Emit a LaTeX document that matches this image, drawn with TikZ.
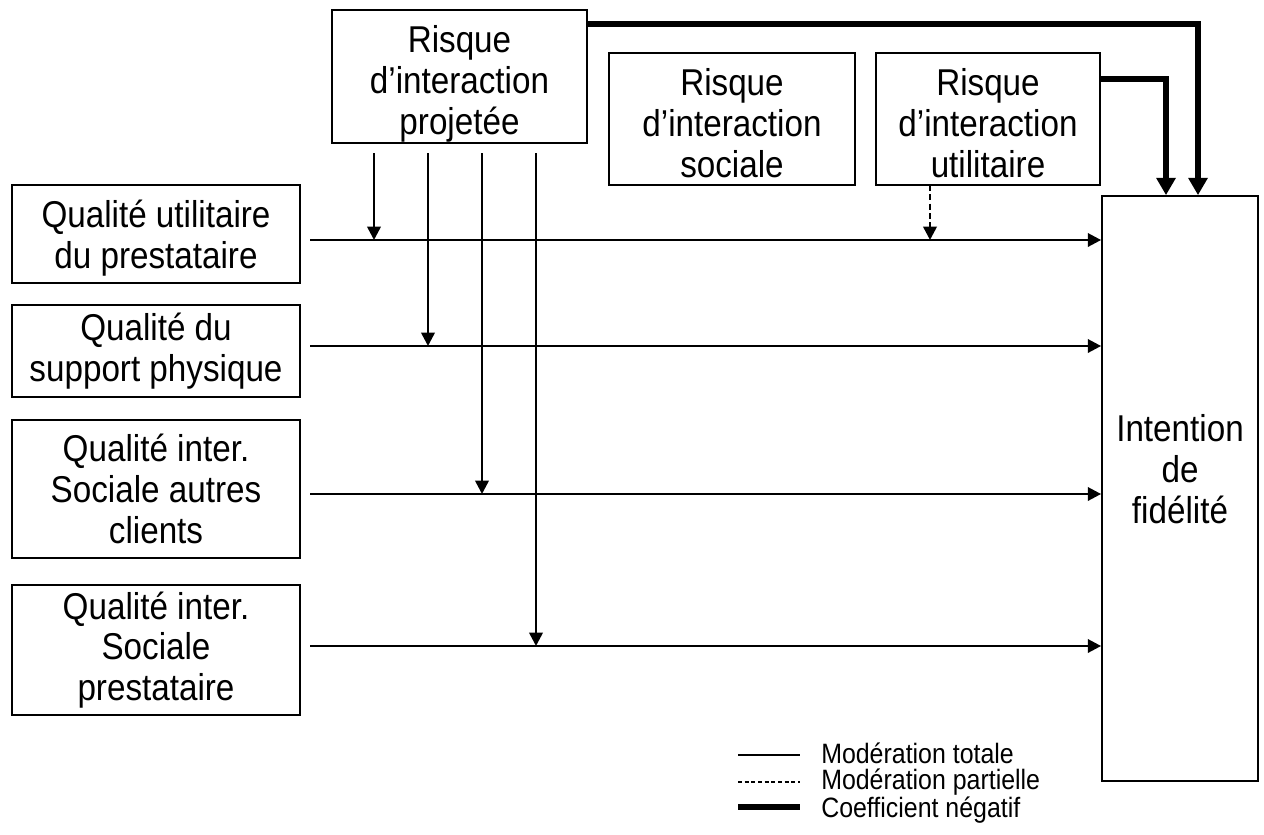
\documentclass[tikz,border=0pt]{standalone}
\usepackage{fontspec}
\setmainfont{Liberation Sans}[FakeStretch=0.89]
\usetikzlibrary{arrows.meta}
\begin{document}
\begin{tikzpicture}[x=0.75pt,y=-0.75pt,
  box/.style={draw,line width=1.3pt,inner sep=0pt,align=center,font=\fontsize{28}{30.5}\selectfont},
  txt/.style={inner sep=0pt,align=center,font=\fontsize{28}{30.5}\selectfont},
  arr/.style={line width=1.9pt,-{Triangle[width=10pt,length=10pt]}},
  darr/.style={arr,dash pattern=on 4.5pt off 2.5pt},
  neg/.style={line width=4pt,-{Triangle[width=14pt,length=13pt]}},
  legtxt/.style={anchor=west,inner sep=0pt,align=left,font=\fontsize{21}{19.2}\selectfont}]
\useasboundingbox (0,0) rectangle (1264,835);
% boxes
\node[box,minimum width=216pt,minimum height=73.5pt] (q1) at (156,234) {};
\node[txt] (q1t) at (156,238) {Qualité utilitaire\\du prestataire};
\node[box,minimum width=216pt,minimum height=69pt] (q2) at (156,351) {Qualité du\\support physique};
\node[box,minimum width=216pt,minimum height=103.5pt] (q3) at (156,489) {Qualité inter.\\Sociale autres\\clients};
\node[box,minimum width=216pt,minimum height=97.5pt] (q4) at (156,650) {Qualité inter.\\Sociale\\prestataire};
\node[box,minimum width=191.25pt,minimum height=99.75pt] (proj) at (459.5,76.5) {};
\node[txt] (projt) at (459.5,84) {Risque\\d’interaction\\projetée};
\node[box,minimum width=184.5pt,minimum height=99pt] (soc) at (732,119) {};
\node[txt] (soct) at (732,123) {Risque\\d’interaction\\sociale};
\node[box,minimum width=168pt,minimum height=99pt] (util) at (988,119) {};
\node[txt] (utilt) at (988,123) {Risque\\d’interaction\\utilitaire};
\node[box,minimum width=117pt,minimum height=438.75pt] (int) at (1180,488.5) {};
\node[txt] (intt) at (1180,469) {Intention\\de\\fidélité};
% horizontal arrows
\coordinate (s1) at (310,240);
\coordinate (s2) at (310,346);
\coordinate (s3) at (310,494);
\coordinate (s4) at (310,646);
\foreach \s in {s1,s2,s3,s4} \draw[arr] (\s) -- (\s -| int.west);
% vertical moderation arrows
\coordinate (v1) at (374,153);
\coordinate (v2) at (428,153);
\coordinate (v3) at (482,153);
\coordinate (v4) at (536,153);
\draw[arr] (v1) -- (v1 |- s1);
\draw[arr] (v2) -- (v2 |- s2);
\draw[arr] (v3) -- (v3 |- s3);
\draw[arr] (v4) -- (v4 |- s4);
\coordinate (d1) at (930,185);
\draw[darr] (d1) -- (d1 |- s1);
% negative coefficients
\coordinate (t1) at (587,24);
\coordinate (t1c) at (1198,24);
\coordinate (t2) at (1100,79);
\coordinate (t2c) at (1166,79);
\draw[neg] (t1) -- (t1c) -- (t1c |- int.north);
\draw[neg] (t2) -- (t2c) -- (t2c |- int.north);
% legend
\coordinate (l1a) at (738,755); \coordinate (l1b) at (800,755);
\coordinate (l2a) at (738,782); \coordinate (l2b) at (800,782);
\coordinate (l3a) at (738,807); \coordinate (l3b) at (800,807);
\draw[line width=1.2pt] (l1a) -- (l1b);
\draw[line width=1.2pt,dash pattern=on 3pt off 2pt] (l2a) -- (l2b);
\draw[line width=4pt] (l3a) -- (l3b);
\node[legtxt] (leg) at (821,783) {Modération totale\\Modération partielle\\Coefficient négatif};
\end{tikzpicture}
\end{document}
